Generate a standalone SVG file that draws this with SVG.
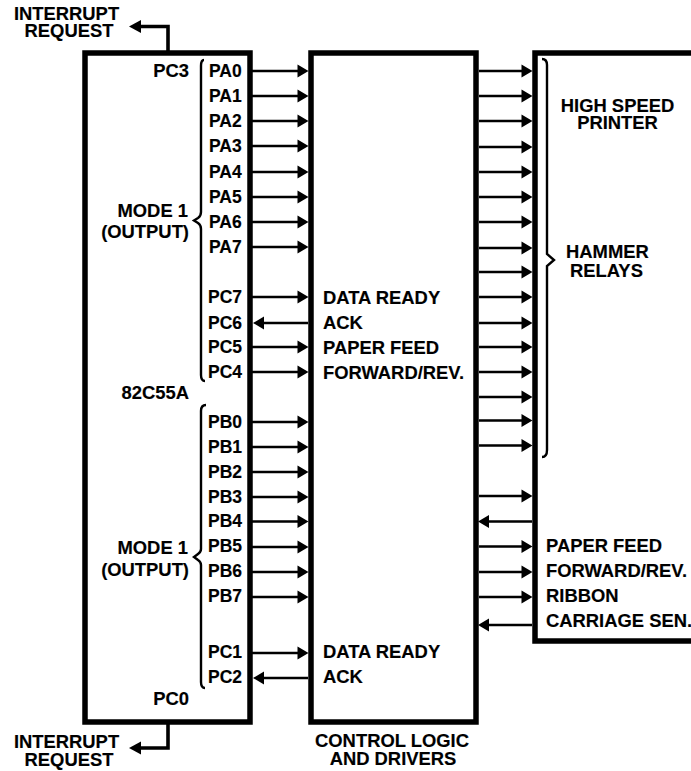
<svg xmlns="http://www.w3.org/2000/svg" width="691" height="771" viewBox="0 0 691 771">
<style>
text{font-family:"Liberation Sans",Arial,sans-serif;font-weight:700;font-size:18.4px;fill:#000;stroke:#000;stroke-width:.15}
text.p{font-size:17.5px}
.m{text-anchor:middle}.e{text-anchor:end}
.box{fill:none;stroke:#000;stroke-width:5.5}
.w{fill:none;stroke:#000;stroke-width:2.6}
.i{fill:none;stroke:#000;stroke-width:3.6}
.b{fill:none;stroke:#000;stroke-width:2.4}
</style>
<defs>
<path id="r" d="M-11-6.5L0 0L-11 6.5Z" fill="#000"/>
</defs>
<rect width="691" height="771" fill="#fff"/>
<g id="chip-82c55a">
<rect class="box" x="85" y="53" width="165" height="669"/>
<path class="b" d="M204 60Q201 60 201 66V212Q201 216 198 218L194 220.500L198 223Q201 225 201 229V375Q201 381 205 381"/>
<path class="b" d="M206 405Q201 405 201 411V549Q201 552 198 554L194 557L198 560Q201 562 201 565V682Q201 688 205 688"/>
<text class="e" x="189" y="77">PC3</text>
<text class="e" x="188" y="217">MODE 1</text><text class="e" x="189" y="238">(OUTPUT)</text>
<text class="p" x="209" y="77">PA0</text><text class="p" x="209" y="102">PA1</text><text class="p" x="209" y="127">PA2</text><text class="p" x="209" y="152">PA3</text><text class="p" x="209" y="178">PA4</text><text class="p" x="209" y="203">PA5</text><text class="p" x="209" y="228">PA6</text><text class="p" x="209" y="253">PA7</text>
<text class="p" x="208" y="303">PC7</text><text class="p" x="208" y="329">PC6</text><text class="p" x="208" y="353">PC5</text><text class="p" x="208" y="378">PC4</text>
<text class="e" x="189" y="399">82C55A</text>
<text class="p" x="208" y="428">PB0</text><text class="p" x="208" y="453">PB1</text><text class="p" x="208" y="478">PB2</text><text class="p" x="208" y="503">PB3</text><text class="p" x="208" y="527">PB4</text><text class="p" x="208" y="552">PB5</text><text class="p" x="208" y="577">PB6</text><text class="p" x="208" y="602">PB7</text>
<text class="e" x="188" y="554">MODE 1</text><text class="e" x="189" y="576">(OUTPUT)</text>
<text class="p" x="208" y="658">PC1</text><text class="p" x="208" y="683">PC2</text>
<text class="e" x="189" y="705">PC0</text>
</g>
<g id="control-logic">
<rect class="box" x="311" y="53" width="165" height="669"/>
<text x="323" y="304">DATA READY</text><text x="323" y="329">ACK</text><text x="323" y="354">PAPER FEED</text><text x="323" y="379">FORWARD/REV.</text>
<text x="323" y="658">DATA READY</text><text x="323" y="683">ACK</text>
<text class="m" x="392" y="747">CONTROL LOGIC</text><text class="m" x="393" y="765">AND DRIVERS</text>
</g>
<g id="printer">
<path class="box" d="M700 53H535V641H700"/>
<path class="b" d="M542 59Q547 59 547 65V254L554 260L547 266V450Q547 457 542 457"/>
<text class="m" x="617.500" y="112">HIGH SPEED</text><text class="m" x="617.500" y="129">PRINTER</text>
<text x="566" y="258">HAMMER</text><text x="570" y="277">RELAYS</text>
<text x="546" y="552">PAPER FEED</text><text x="546" y="577">FORWARD/REV.</text><text x="546" y="602">RIBBON</text><text x="546" y="627">CARRIAGE SEN.</text>
</g>
<g id="irq-top"><text class="m" x="66.500" y="20">INTERRUPT</text><text class="m" x="69" y="37">REQUEST</text></g>
<g id="irq-bottom"><text class="m" x="66.500" y="748">INTERRUPT</text><text class="m" x="69" y="766">REQUEST</text></g>
<g id="connectors">
<path class="i" d="M168 51V26.500H135"/><path d="M129 26.500L141 20V33Z"/>
<path class="i" d="M168 724V748H135"/><path d="M129 748L141 741.500V754.500Z"/>
<path class="w" d="M252 71H298M252 96H298M252 121H298M252 146H298M252 172H298M252 197H298M252 222H298M252 247H298M252 297H298M252 347H298M252 372H298M252 422H298M252 447H298M252 472H298M252 497H298M252 521.500H298M252 547H298M252 572H298M252 597H298M252 653H298"/>
<path class="w" d="M262 323H308M262 678H308"/>
<use href="#r" x="308.500" y="71"/><use href="#r" x="308.500" y="96"/><use href="#r" x="308.500" y="121"/><use href="#r" x="308.500" y="146"/><use href="#r" x="308.500" y="172"/><use href="#r" x="308.500" y="197"/><use href="#r" x="308.500" y="222"/><use href="#r" x="308.500" y="247"/><use href="#r" x="308.500" y="297"/><use href="#r" x="308.500" y="347"/><use href="#r" x="308.500" y="372"/><use href="#r" x="308.500" y="422"/><use href="#r" x="308.500" y="447"/><use href="#r" x="308.500" y="472"/><use href="#r" x="308.500" y="497"/><use href="#r" x="308.500" y="521.500"/><use href="#r" x="308.500" y="547"/><use href="#r" x="308.500" y="572"/><use href="#r" x="308.500" y="597"/><use href="#r" x="308.500" y="653"/>
<use href="#r" transform="translate(253 323) scale(-1 1)"/><use href="#r" transform="translate(253 678) scale(-1 1)"/>
<path class="w" d="M479 71H522M479 96H522M479 121H522M479 147H522M479 172H522M479 197H522M479 222H522M479 248H522M479 272H522M479 297H522M479 323H522M479 347H522M479 372H522M479 397H522M479 420.500H522M479 445.500H522M479 496H522M479 546.500H522M479 572H522M479 597H522"/>
<path class="w" d="M489 521.500H532M489 625H532"/>
<use href="#r" x="532.500" y="71"/><use href="#r" x="532.500" y="96"/><use href="#r" x="532.500" y="121"/><use href="#r" x="532.500" y="147"/><use href="#r" x="532.500" y="172"/><use href="#r" x="532.500" y="197"/><use href="#r" x="532.500" y="222"/><use href="#r" x="532.500" y="248"/><use href="#r" x="532.500" y="272"/><use href="#r" x="532.500" y="297"/><use href="#r" x="532.500" y="323"/><use href="#r" x="532.500" y="347"/><use href="#r" x="532.500" y="372"/><use href="#r" x="532.500" y="397"/><use href="#r" x="532.500" y="420.500"/><use href="#r" x="532.500" y="445.500"/><use href="#r" x="532.500" y="496"/><use href="#r" x="532.500" y="546.500"/><use href="#r" x="532.500" y="572"/><use href="#r" x="532.500" y="597"/>
<use href="#r" transform="translate(478 521.500) scale(-1 1)"/><use href="#r" transform="translate(478 625) scale(-1 1)"/>
</g>
</svg>
